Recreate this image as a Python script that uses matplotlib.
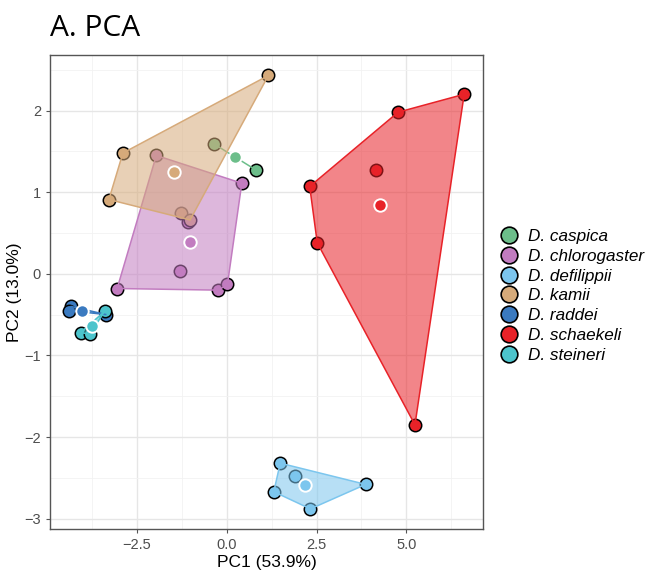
import matplotlib
matplotlib.use("Agg")
import matplotlib.pyplot as plt
from matplotlib.lines import Line2D
import numpy as np

# PCA scores, one pair of lists per species
species = ["D. caspica", "D. chlorogaster", "D. defilippii", "D. kamii",
           "D. raddei", "D. schaekeli", "D. steineri"]
colours = ["#6cbe8a", "#c27cc0", "#7cc6ee", "#d6aa7a",
           "#3a7ac0", "#e82228", "#4cc4cc"]

caspica_pc1 = [-0.35, 0.82]
caspica_pc2 = [1.59, 1.27]
chlorogaster_pc1 = [-1.96, 0.42, -1.09, -1.30, -3.05, -0.23, 0.02]
chlorogaster_pc2 = [1.45, 1.11, 0.63, 0.04, -0.18, -0.20, -0.13]
defilippii_pc1 = [1.49, 1.91, 1.31, 2.33, 3.87]
defilippii_pc2 = [-2.32, -2.48, -2.67, -2.88, -2.58]
kamii_pc1 = [1.16, -2.89, -3.28, -1.27, -1.02]
kamii_pc2 = [2.43, 1.48, 0.91, 0.74, 0.66]
raddei_pc1 = [-4.33, -4.39, -3.35]
raddei_pc2 = [-0.40, -0.45, -0.50]
schaekeli_pc1 = [6.61, 4.77, 4.15, 2.31, 2.52, 5.24]
schaekeli_pc2 = [2.20, 1.98, 1.27, 1.07, 0.38, -1.85]
steineri_pc1 = [-3.40, -4.07, -3.81]
steineri_pc2 = [-0.46, -0.72, -0.74]

scores = [
    (caspica_pc1, caspica_pc2),
    (chlorogaster_pc1, chlorogaster_pc2),
    (defilippii_pc1, defilippii_pc2),
    (kamii_pc1, kamii_pc2),
    (raddei_pc1, raddei_pc2),
    (schaekeli_pc1, schaekeli_pc2),
    (steineri_pc1, steineri_pc2),
]


def convex_hull(pts):
    # monotone chain, returns hull vertices in order
    pts = sorted(map(tuple, pts))
    if len(pts) < 3:
        return pts

    def cross(o, a, b):
        return (a[0] - o[0]) * (b[1] - o[1]) - (a[1] - o[1]) * (b[0] - o[0])

    lower, upper = [], []
    for p in pts:
        while len(lower) >= 2 and cross(lower[-2], lower[-1], p) <= 0:
            lower.pop()
        lower.append(p)
    for p in reversed(pts):
        while len(upper) >= 2 and cross(upper[-2], upper[-1], p) <= 0:
            upper.pop()
        upper.append(p)
    return lower[:-1] + upper[:-1]


plt.rcParams["font.family"] = ["Liberation Sans", "DejaVu Sans"]

fig = plt.figure(figsize=(6.49, 5.70), dpi=100)
ax = fig.add_axes([0.077, 0.0714, 0.667, 0.832])

for (pc1, pc2), colour in zip(scores, colours):
    ax.scatter(pc1, pc2, s=80, color=colour, edgecolor="black",
               linewidth=1.1, zorder=3)

for (pc1, pc2), colour in zip(scores, colours):
    hull = np.array(convex_hull(np.column_stack([pc1, pc2])))
    ax.fill(hull[:, 0], hull[:, 1], facecolor=colour, alpha=0.55,
            edgecolor="none", zorder=4)
    ax.fill(hull[:, 0], hull[:, 1], facecolor="none", edgecolor=colour,
            linewidth=1.1, zorder=4)

for (pc1, pc2), colour in zip(scores, colours):
    ax.scatter(np.mean(pc1), np.mean(pc2), s=80, color=colour,
               edgecolor="white", linewidth=1.4, zorder=5)

ax.set_xlim(-4.92, 7.13)
ax.set_ylim(-3.13, 2.68)
ax.set_xticks([-2.5, 0.0, 2.5, 5.0])
ax.set_xticklabels(["\u22122.5", "0.0", "2.5", "5.0"])
ax.set_yticks([-3, -2, -1, 0, 1, 2])
ax.set_yticklabels(["\u22123", "\u22122", "\u22121", "0", "1", "2"])
ax.set_xticks([-3.75, -1.25, 1.25, 3.75, 6.25], minor=True)
ax.set_yticks([-2.5, -1.5, -0.5, 0.5, 1.5, 2.5], minor=True)
ax.grid(which="major", color="#e6e6e6", linewidth=1.0, zorder=0)
ax.grid(which="minor", color="#f2f2f2", linewidth=0.6, zorder=0)
ax.set_axisbelow(True)
ax.tick_params(which="major", length=3, color="#555555",
               labelcolor="#4d4d4d", labelsize=10.5)
ax.tick_params(which="minor", length=0)
for spine in ax.spines.values():
    spine.set_color("#555555")
    spine.set_linewidth(1.0)

ax.set_xlabel("PC1 (53.9%)", fontsize=12.5, labelpad=2)
ax.set_ylabel("PC2 (13.0%)", fontsize=12.5, labelpad=2)

fig.text(0.077, 0.937, "A. PCA", fontsize=21.5, family="Open Sans",
         ha="left", va="baseline")

handles = [Line2D([], [], marker="o", linestyle="none", markersize=12,
                  markerfacecolor=c, markeredgecolor="black",
                  markeredgewidth=1.2) for c in colours]
fig.legend(handles, species, loc="center left", bbox_to_anchor=(0.748, 0.481),
           frameon=False, prop={"style": "italic", "size": 12.3},
           handletextpad=0.1, labelspacing=0.28, borderaxespad=0)

fig.savefig("out.png", dpi=100)
